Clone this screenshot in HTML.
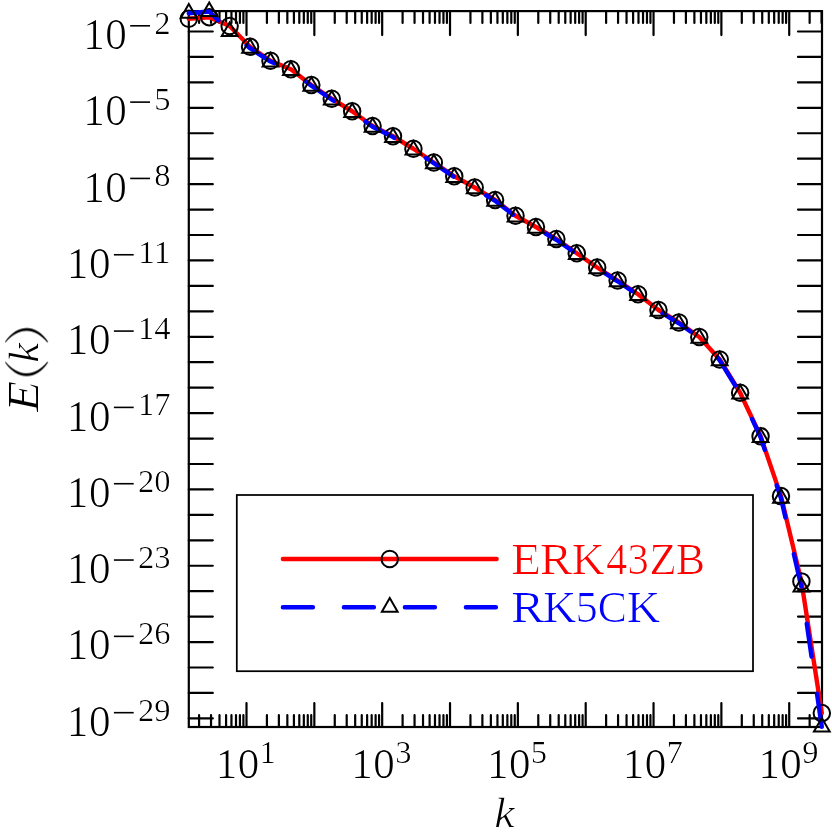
<!DOCTYPE html><html><head><meta charset="utf-8"><style>html,body{margin:0;padding:0;background:#fff}svg{display:block}text{font-family:"Liberation Serif",serif}</style></head><body>
<svg width="832" height="832" viewBox="0 0 832 832">
<rect width="832" height="832" fill="#fff"/>
<path d="M199.08 727.0V715.20M199.08 11.1V22.90M211.03 727.0V715.20M211.03 11.1V22.90M219.50 727.0V715.20M219.50 11.1V22.90M226.08 727.0V715.20M226.08 11.1V22.90M231.45 727.0V715.20M231.45 11.1V22.90M235.99 727.0V715.20M235.99 11.1V22.90M239.93 727.0V715.20M239.93 11.1V22.90M243.40 727.0V715.20M243.40 11.1V22.90M246.50 727.0V703.00M246.50 11.1V35.10M266.92 727.0V715.20M266.92 11.1V22.90M278.87 727.0V715.20M278.87 11.1V22.90M287.34 727.0V715.20M287.34 11.1V22.90M293.92 727.0V715.20M293.92 11.1V22.90M299.29 727.0V715.20M299.29 11.1V22.90M303.83 727.0V715.20M303.83 11.1V22.90M307.77 727.0V715.20M307.77 11.1V22.90M311.24 727.0V715.20M311.24 11.1V22.90M314.34 727.0V703.00M314.34 11.1V35.10M334.76 727.0V715.20M334.76 11.1V22.90M346.71 727.0V715.20M346.71 11.1V22.90M355.18 727.0V715.20M355.18 11.1V22.90M361.76 727.0V715.20M361.76 11.1V22.90M367.13 727.0V715.20M367.13 11.1V22.90M371.67 727.0V715.20M371.67 11.1V22.90M375.61 727.0V715.20M375.61 11.1V22.90M379.08 727.0V715.20M379.08 11.1V22.90M382.18 727.0V703.00M382.18 11.1V35.10M402.60 727.0V715.20M402.60 11.1V22.90M414.55 727.0V715.20M414.55 11.1V22.90M423.02 727.0V715.20M423.02 11.1V22.90M429.60 727.0V715.20M429.60 11.1V22.90M434.97 727.0V715.20M434.97 11.1V22.90M439.51 727.0V715.20M439.51 11.1V22.90M443.45 727.0V715.20M443.45 11.1V22.90M446.92 727.0V715.20M446.92 11.1V22.90M450.02 727.0V703.00M450.02 11.1V35.10M470.44 727.0V715.20M470.44 11.1V22.90M482.39 727.0V715.20M482.39 11.1V22.90M490.86 727.0V715.20M490.86 11.1V22.90M497.44 727.0V715.20M497.44 11.1V22.90M502.81 727.0V715.20M502.81 11.1V22.90M507.35 727.0V715.20M507.35 11.1V22.90M511.29 727.0V715.20M511.29 11.1V22.90M514.76 727.0V715.20M514.76 11.1V22.90M517.86 727.0V703.00M517.86 11.1V35.10M538.28 727.0V715.20M538.28 11.1V22.90M550.23 727.0V715.20M550.23 11.1V22.90M558.70 727.0V715.20M558.70 11.1V22.90M565.28 727.0V715.20M565.28 11.1V22.90M570.65 727.0V715.20M570.65 11.1V22.90M575.19 727.0V715.20M575.19 11.1V22.90M579.13 727.0V715.20M579.13 11.1V22.90M582.60 727.0V715.20M582.60 11.1V22.90M585.70 727.0V703.00M585.70 11.1V35.10M606.12 727.0V715.20M606.12 11.1V22.90M618.07 727.0V715.20M618.07 11.1V22.90M626.54 727.0V715.20M626.54 11.1V22.90M633.12 727.0V715.20M633.12 11.1V22.90M638.49 727.0V715.20M638.49 11.1V22.90M643.03 727.0V715.20M643.03 11.1V22.90M646.97 727.0V715.20M646.97 11.1V22.90M650.44 727.0V715.20M650.44 11.1V22.90M653.54 727.0V703.00M653.54 11.1V35.10M673.96 727.0V715.20M673.96 11.1V22.90M685.91 727.0V715.20M685.91 11.1V22.90M694.38 727.0V715.20M694.38 11.1V22.90M700.96 727.0V715.20M700.96 11.1V22.90M706.33 727.0V715.20M706.33 11.1V22.90M710.87 727.0V715.20M710.87 11.1V22.90M714.81 727.0V715.20M714.81 11.1V22.90M718.28 727.0V715.20M718.28 11.1V22.90M721.38 727.0V703.00M721.38 11.1V35.10M741.80 727.0V715.20M741.80 11.1V22.90M753.75 727.0V715.20M753.75 11.1V22.90M762.22 727.0V715.20M762.22 11.1V22.90M768.80 727.0V715.20M768.80 11.1V22.90M774.17 727.0V715.20M774.17 11.1V22.90M778.71 727.0V715.20M778.71 11.1V22.90M782.65 727.0V715.20M782.65 11.1V22.90M786.12 727.0V715.20M786.12 11.1V22.90M789.22 727.0V703.00M789.22 11.1V35.10M809.64 727.0V715.20M809.64 11.1V22.90M821.59 727.0V715.20M821.59 11.1V22.90M188.8 718.38H212.80M822.0 718.38H798.00M188.8 692.94H212.80M822.0 692.94H798.00M188.8 667.50H212.80M822.0 667.50H798.00M188.8 642.06H212.80M822.0 642.06H798.00M188.8 616.62H212.80M822.0 616.62H798.00M188.8 591.18H212.80M822.0 591.18H798.00M188.8 565.74H212.80M822.0 565.74H798.00M188.8 540.30H212.80M822.0 540.30H798.00M188.8 514.86H212.80M822.0 514.86H798.00M188.8 489.42H212.80M822.0 489.42H798.00M188.8 463.98H212.80M822.0 463.98H798.00M188.8 438.54H212.80M822.0 438.54H798.00M188.8 413.10H212.80M822.0 413.10H798.00M188.8 387.66H212.80M822.0 387.66H798.00M188.8 362.22H212.80M822.0 362.22H798.00M188.8 336.78H212.80M822.0 336.78H798.00M188.8 311.34H212.80M822.0 311.34H798.00M188.8 285.90H212.80M822.0 285.90H798.00M188.8 260.46H212.80M822.0 260.46H798.00M188.8 235.02H212.80M822.0 235.02H798.00M188.8 209.58H212.80M822.0 209.58H798.00M188.8 184.14H212.80M822.0 184.14H798.00M188.8 158.70H212.80M822.0 158.70H798.00M188.8 133.26H212.80M822.0 133.26H798.00M188.8 107.82H212.80M822.0 107.82H798.00M188.8 82.38H212.80M822.0 82.38H798.00M188.8 56.94H212.80M822.0 56.94H798.00M188.8 31.50H212.80M822.0 31.50H798.00" stroke="#000" stroke-width="2.2" stroke-linecap="round" fill="none"/>
<rect x="188.8" y="11.1" width="633.20" height="715.90" fill="none" stroke="#000" stroke-width="2.2"/>
<polyline points="188.80,18.75 209.22,17.20 229.64,26.00 250.06,46.80 270.48,60.75 290.90,69.25 311.32,85.00 331.74,98.75 352.16,111.25 372.58,126.00 393.00,136.25 413.42,148.75 433.84,162.50 454.26,176.25 474.68,187.50 495.10,200.00 515.52,215.75 535.94,227.00 556.36,239.00 576.78,253.25 597.20,267.50 617.62,280.50 638.04,294.25 658.46,310.00 678.88,322.50 699.30,337.00 719.72,359.50 740.14,392.75 760.56,436.25 780.98,496.10 801.40,581.40 821.82,713.10" fill="none" stroke="#f00" stroke-width="4.4" stroke-linecap="round" stroke-linejoin="round"/>
<circle cx="188.80" cy="18.75" r="8.25" fill="none" stroke="#000" stroke-width="2.0"/>
<circle cx="209.22" cy="17.20" r="8.25" fill="none" stroke="#000" stroke-width="2.0"/>
<circle cx="229.64" cy="26.00" r="8.25" fill="none" stroke="#000" stroke-width="2.0"/>
<circle cx="250.06" cy="46.80" r="8.25" fill="none" stroke="#000" stroke-width="2.0"/>
<circle cx="270.48" cy="60.75" r="8.25" fill="none" stroke="#000" stroke-width="2.0"/>
<circle cx="290.90" cy="69.25" r="8.25" fill="none" stroke="#000" stroke-width="2.0"/>
<circle cx="311.32" cy="85.00" r="8.25" fill="none" stroke="#000" stroke-width="2.0"/>
<circle cx="331.74" cy="98.75" r="8.25" fill="none" stroke="#000" stroke-width="2.0"/>
<circle cx="352.16" cy="111.25" r="8.25" fill="none" stroke="#000" stroke-width="2.0"/>
<circle cx="372.58" cy="126.00" r="8.25" fill="none" stroke="#000" stroke-width="2.0"/>
<circle cx="393.00" cy="136.25" r="8.25" fill="none" stroke="#000" stroke-width="2.0"/>
<circle cx="413.42" cy="148.75" r="8.25" fill="none" stroke="#000" stroke-width="2.0"/>
<circle cx="433.84" cy="162.50" r="8.25" fill="none" stroke="#000" stroke-width="2.0"/>
<circle cx="454.26" cy="176.25" r="8.25" fill="none" stroke="#000" stroke-width="2.0"/>
<circle cx="474.68" cy="187.50" r="8.25" fill="none" stroke="#000" stroke-width="2.0"/>
<circle cx="495.10" cy="200.00" r="8.25" fill="none" stroke="#000" stroke-width="2.0"/>
<circle cx="515.52" cy="215.75" r="8.25" fill="none" stroke="#000" stroke-width="2.0"/>
<circle cx="535.94" cy="227.00" r="8.25" fill="none" stroke="#000" stroke-width="2.0"/>
<circle cx="556.36" cy="239.00" r="8.25" fill="none" stroke="#000" stroke-width="2.0"/>
<circle cx="576.78" cy="253.25" r="8.25" fill="none" stroke="#000" stroke-width="2.0"/>
<circle cx="597.20" cy="267.50" r="8.25" fill="none" stroke="#000" stroke-width="2.0"/>
<circle cx="617.62" cy="280.50" r="8.25" fill="none" stroke="#000" stroke-width="2.0"/>
<circle cx="638.04" cy="294.25" r="8.25" fill="none" stroke="#000" stroke-width="2.0"/>
<circle cx="658.46" cy="310.00" r="8.25" fill="none" stroke="#000" stroke-width="2.0"/>
<circle cx="678.88" cy="322.50" r="8.25" fill="none" stroke="#000" stroke-width="2.0"/>
<circle cx="699.30" cy="337.00" r="8.25" fill="none" stroke="#000" stroke-width="2.0"/>
<circle cx="719.72" cy="359.50" r="8.25" fill="none" stroke="#000" stroke-width="2.0"/>
<circle cx="740.14" cy="392.75" r="8.25" fill="none" stroke="#000" stroke-width="2.0"/>
<circle cx="760.56" cy="436.25" r="8.25" fill="none" stroke="#000" stroke-width="2.0"/>
<circle cx="780.98" cy="496.10" r="8.25" fill="none" stroke="#000" stroke-width="2.0"/>
<circle cx="801.40" cy="581.40" r="8.25" fill="none" stroke="#000" stroke-width="2.0"/>
<circle cx="821.82" cy="713.10" r="8.25" fill="none" stroke="#000" stroke-width="2.0"/>
<polyline points="188.80,13.20 209.22,11.50 229.64,31.50 250.06,48.20 270.48,61.55 290.90,70.05 311.32,85.80 331.74,99.55 352.16,112.05 372.58,126.80 393.00,137.05 413.42,149.55 433.84,163.30 454.26,177.05 474.68,188.30 495.10,200.80 515.52,216.55 535.94,227.80 556.36,239.80 576.78,254.05 597.20,268.30 617.62,281.30 638.04,295.05 658.46,310.80 678.88,323.30 699.30,337.80 719.72,360.30 740.14,393.55 760.56,437.05 780.98,498.20 801.40,587.00 821.82,727.00" fill="none" stroke="#00f" stroke-width="4.4" stroke-linecap="round" stroke-linejoin="round" stroke-dasharray="33.3 37.55"/>
<path d="M188.80 4.10L180.92 17.75L196.68 17.75Z" fill="none" stroke="#000" stroke-width="2.0" stroke-linejoin="miter"/>
<path d="M209.22 2.40L201.34 16.05L217.10 16.05Z" fill="none" stroke="#000" stroke-width="2.0" stroke-linejoin="miter"/>
<path d="M229.64 22.40L221.76 36.05L237.52 36.05Z" fill="none" stroke="#000" stroke-width="2.0" stroke-linejoin="miter"/>
<path d="M250.06 39.10L242.18 52.75L257.94 52.75Z" fill="none" stroke="#000" stroke-width="2.0" stroke-linejoin="miter"/>
<path d="M270.48 52.95L262.60 66.60L278.36 66.60Z" fill="none" stroke="#000" stroke-width="2.0" stroke-linejoin="miter"/>
<path d="M290.90 61.45L283.02 75.10L298.78 75.10Z" fill="none" stroke="#000" stroke-width="2.0" stroke-linejoin="miter"/>
<path d="M311.32 77.20L303.44 90.85L319.20 90.85Z" fill="none" stroke="#000" stroke-width="2.0" stroke-linejoin="miter"/>
<path d="M331.74 90.95L323.86 104.60L339.62 104.60Z" fill="none" stroke="#000" stroke-width="2.0" stroke-linejoin="miter"/>
<path d="M352.16 103.45L344.28 117.10L360.04 117.10Z" fill="none" stroke="#000" stroke-width="2.0" stroke-linejoin="miter"/>
<path d="M372.58 118.20L364.70 131.85L380.46 131.85Z" fill="none" stroke="#000" stroke-width="2.0" stroke-linejoin="miter"/>
<path d="M393.00 128.45L385.12 142.10L400.88 142.10Z" fill="none" stroke="#000" stroke-width="2.0" stroke-linejoin="miter"/>
<path d="M413.42 140.95L405.54 154.60L421.30 154.60Z" fill="none" stroke="#000" stroke-width="2.0" stroke-linejoin="miter"/>
<path d="M433.84 154.70L425.96 168.35L441.72 168.35Z" fill="none" stroke="#000" stroke-width="2.0" stroke-linejoin="miter"/>
<path d="M454.26 168.45L446.38 182.10L462.14 182.10Z" fill="none" stroke="#000" stroke-width="2.0" stroke-linejoin="miter"/>
<path d="M474.68 179.70L466.80 193.35L482.56 193.35Z" fill="none" stroke="#000" stroke-width="2.0" stroke-linejoin="miter"/>
<path d="M495.10 192.20L487.22 205.85L502.98 205.85Z" fill="none" stroke="#000" stroke-width="2.0" stroke-linejoin="miter"/>
<path d="M515.52 207.95L507.64 221.60L523.40 221.60Z" fill="none" stroke="#000" stroke-width="2.0" stroke-linejoin="miter"/>
<path d="M535.94 219.20L528.06 232.85L543.82 232.85Z" fill="none" stroke="#000" stroke-width="2.0" stroke-linejoin="miter"/>
<path d="M556.36 231.20L548.48 244.85L564.24 244.85Z" fill="none" stroke="#000" stroke-width="2.0" stroke-linejoin="miter"/>
<path d="M576.78 245.45L568.90 259.10L584.66 259.10Z" fill="none" stroke="#000" stroke-width="2.0" stroke-linejoin="miter"/>
<path d="M597.20 259.70L589.32 273.35L605.08 273.35Z" fill="none" stroke="#000" stroke-width="2.0" stroke-linejoin="miter"/>
<path d="M617.62 272.70L609.74 286.35L625.50 286.35Z" fill="none" stroke="#000" stroke-width="2.0" stroke-linejoin="miter"/>
<path d="M638.04 286.45L630.16 300.10L645.92 300.10Z" fill="none" stroke="#000" stroke-width="2.0" stroke-linejoin="miter"/>
<path d="M658.46 302.20L650.58 315.85L666.34 315.85Z" fill="none" stroke="#000" stroke-width="2.0" stroke-linejoin="miter"/>
<path d="M678.88 314.70L671.00 328.35L686.76 328.35Z" fill="none" stroke="#000" stroke-width="2.0" stroke-linejoin="miter"/>
<path d="M699.30 329.20L691.42 342.85L707.18 342.85Z" fill="none" stroke="#000" stroke-width="2.0" stroke-linejoin="miter"/>
<path d="M719.72 351.70L711.84 365.35L727.60 365.35Z" fill="none" stroke="#000" stroke-width="2.0" stroke-linejoin="miter"/>
<path d="M740.14 384.95L732.26 398.60L748.02 398.60Z" fill="none" stroke="#000" stroke-width="2.0" stroke-linejoin="miter"/>
<path d="M760.56 428.45L752.68 442.10L768.44 442.10Z" fill="none" stroke="#000" stroke-width="2.0" stroke-linejoin="miter"/>
<path d="M780.98 489.10L773.10 502.75L788.86 502.75Z" fill="none" stroke="#000" stroke-width="2.0" stroke-linejoin="miter"/>
<path d="M801.40 577.90L793.52 591.55L809.28 591.55Z" fill="none" stroke="#000" stroke-width="2.0" stroke-linejoin="miter"/>
<path d="M821.82 717.90L813.94 731.55L829.70 731.55Z" fill="none" stroke="#000" stroke-width="2.0" stroke-linejoin="miter"/>
<rect x="236.8" y="495" width="516.2" height="176.2" fill="#fff" stroke="#000" stroke-width="1.75"/>
<path d="M282.9 559H496.6" stroke="#f00" stroke-width="4.4" stroke-linecap="round"/>
<circle cx="389.75" cy="559" r="8.25" fill="none" stroke="#000" stroke-width="2.0"/>
<path d="M282.9 607.2H496.6" stroke="#00f" stroke-width="4.4" stroke-linecap="round" stroke-dasharray="30 31"/>
<path d="M389.75 598.10L381.87 611.75L397.63 611.75Z" fill="none" stroke="#000" stroke-width="2.0" stroke-linejoin="miter"/>
<defs><clipPath id="tc"><text x="510.42" y="573.50" font-size="43.4" fill="#f00" textLength="30.20" lengthAdjust="spacingAndGlyphs">E</text><text x="539.34" y="573.50" font-size="43.4" fill="#f00" textLength="32.56" lengthAdjust="spacingAndGlyphs">R</text><text x="571.23" y="573.50" font-size="43.4" fill="#f00" textLength="32.91" lengthAdjust="spacingAndGlyphs">K</text><text x="605.44" y="573.50" font-size="43.4" fill="#f00" textLength="21.40" lengthAdjust="spacingAndGlyphs">4</text><text x="626.74" y="573.50" font-size="43.4" fill="#f00" textLength="21.70" lengthAdjust="spacingAndGlyphs">3</text><text x="648.66" y="573.50" font-size="43.4" fill="#f00" textLength="27.56" lengthAdjust="spacingAndGlyphs">Z</text><text x="675.23" y="573.50" font-size="43.4" fill="#f00" textLength="29.40" lengthAdjust="spacingAndGlyphs">B</text><text x="510.40" y="621.70" font-size="43.4" fill="#00f" textLength="33.40" lengthAdjust="spacingAndGlyphs">R</text><text x="542.62" y="621.70" font-size="43.4" fill="#00f" textLength="33.33" lengthAdjust="spacingAndGlyphs">K</text><text x="575.13" y="621.70" font-size="43.4" fill="#00f" textLength="22.36" lengthAdjust="spacingAndGlyphs">5</text><text x="597.03" y="621.70" font-size="43.4" fill="#00f" textLength="29.59" lengthAdjust="spacingAndGlyphs">C</text><text x="626.16" y="621.70" font-size="43.4" fill="#00f" textLength="33.49" lengthAdjust="spacingAndGlyphs">K</text><text x="66.14" y="735.79" font-size="43.63" fill="#000" textLength="44.06" lengthAdjust="spacingAndGlyphs">10</text><text x="137.75" y="720.67" font-size="31.13" textLength="32.60" lengthAdjust="spacingAndGlyphs">29</text><text x="66.14" y="659.47" font-size="43.63" fill="#000" textLength="44.06" lengthAdjust="spacingAndGlyphs">10</text><text x="137.75" y="644.35" font-size="31.13" textLength="32.60" lengthAdjust="spacingAndGlyphs">26</text><text x="66.14" y="583.15" font-size="43.63" fill="#000" textLength="44.06" lengthAdjust="spacingAndGlyphs">10</text><text x="137.75" y="568.03" font-size="31.13" textLength="32.60" lengthAdjust="spacingAndGlyphs">23</text><text x="66.14" y="506.83" font-size="43.63" fill="#000" textLength="44.06" lengthAdjust="spacingAndGlyphs">10</text><text x="137.75" y="491.71" font-size="31.13" textLength="32.60" lengthAdjust="spacingAndGlyphs">20</text><text x="66.14" y="430.51" font-size="43.63" fill="#000" textLength="44.06" lengthAdjust="spacingAndGlyphs">10</text><text x="137.75" y="415.39" font-size="31.13" textLength="32.60" lengthAdjust="spacingAndGlyphs">17</text><text x="66.14" y="354.19" font-size="43.63" fill="#000" textLength="44.06" lengthAdjust="spacingAndGlyphs">10</text><text x="137.75" y="339.07" font-size="31.13" textLength="32.60" lengthAdjust="spacingAndGlyphs">14</text><text x="66.14" y="277.87" font-size="43.63" fill="#000" textLength="44.06" lengthAdjust="spacingAndGlyphs">10</text><text x="137.75" y="262.75" font-size="31.13" textLength="32.60" lengthAdjust="spacingAndGlyphs">11</text><text x="82.44" y="201.55" font-size="43.63" fill="#000" textLength="44.06" lengthAdjust="spacingAndGlyphs">10</text><text x="154.05" y="186.43" font-size="31.13" textLength="16.30" lengthAdjust="spacingAndGlyphs">8</text><text x="82.44" y="125.23" font-size="43.63" fill="#000" textLength="44.06" lengthAdjust="spacingAndGlyphs">10</text><text x="154.05" y="110.11" font-size="31.13" textLength="16.30" lengthAdjust="spacingAndGlyphs">5</text><text x="82.44" y="48.91" font-size="43.63" fill="#000" textLength="44.06" lengthAdjust="spacingAndGlyphs">10</text><text x="154.05" y="33.79" font-size="31.13" textLength="16.30" lengthAdjust="spacingAndGlyphs">2</text><text x="214.96" y="778.02" font-size="43.19" fill="#000" textLength="43.89" lengthAdjust="spacingAndGlyphs">10</text><text x="259.25" y="762.89" font-size="31.28" textLength="16.30" lengthAdjust="spacingAndGlyphs">1</text><text x="350.64" y="778.02" font-size="43.19" fill="#000" textLength="43.89" lengthAdjust="spacingAndGlyphs">10</text><text x="394.93" y="762.89" font-size="31.28" textLength="16.30" lengthAdjust="spacingAndGlyphs">3</text><text x="486.32" y="778.02" font-size="43.19" fill="#000" textLength="43.89" lengthAdjust="spacingAndGlyphs">10</text><text x="530.61" y="762.89" font-size="31.28" textLength="16.30" lengthAdjust="spacingAndGlyphs">5</text><text x="622.00" y="778.02" font-size="43.19" fill="#000" textLength="43.89" lengthAdjust="spacingAndGlyphs">10</text><text x="666.29" y="762.89" font-size="31.28" textLength="16.30" lengthAdjust="spacingAndGlyphs">7</text><text x="757.68" y="778.02" font-size="43.19" fill="#000" textLength="43.89" lengthAdjust="spacingAndGlyphs">10</text><text x="801.97" y="762.89" font-size="31.28" textLength="16.30" lengthAdjust="spacingAndGlyphs">9</text><text x="493.83" y="826.60" font-size="42.30" font-style="italic" fill="#000" textLength="20.25" lengthAdjust="spacingAndGlyphs">k</text><text x="-0.06" y="-0.30" font-size="44.89" font-style="italic" fill="#000" textLength="31.17" lengthAdjust="spacingAndGlyphs" transform="translate(38.1 412.4) rotate(-90)">E</text><text x="49.26" y="-0.30" font-size="42.30" font-style="italic" fill="#000" textLength="19.83" lengthAdjust="spacingAndGlyphs" transform="translate(38.1 412.4) rotate(-90)">k</text></clipPath></defs>
<g clip-path="url(#tc)"><text x="511.42" y="573.50" font-size="43.4" fill="#f00" textLength="30.20" lengthAdjust="spacingAndGlyphs">E</text><text x="540.34" y="573.50" font-size="43.4" fill="#f00" textLength="32.56" lengthAdjust="spacingAndGlyphs">R</text><text x="572.23" y="573.50" font-size="43.4" fill="#f00" textLength="32.91" lengthAdjust="spacingAndGlyphs">K</text><text x="606.44" y="573.50" font-size="43.4" fill="#f00" textLength="21.40" lengthAdjust="spacingAndGlyphs">4</text><text x="627.74" y="573.50" font-size="43.4" fill="#f00" textLength="21.70" lengthAdjust="spacingAndGlyphs">3</text><text x="649.66" y="573.50" font-size="43.4" fill="#f00" textLength="27.56" lengthAdjust="spacingAndGlyphs">Z</text><text x="676.23" y="573.50" font-size="43.4" fill="#f00" textLength="29.40" lengthAdjust="spacingAndGlyphs">B</text><text x="511.40" y="621.70" font-size="43.4" fill="#00f" textLength="33.40" lengthAdjust="spacingAndGlyphs">R</text><text x="543.62" y="621.70" font-size="43.4" fill="#00f" textLength="33.33" lengthAdjust="spacingAndGlyphs">K</text><text x="576.13" y="621.70" font-size="43.4" fill="#00f" textLength="22.36" lengthAdjust="spacingAndGlyphs">5</text><text x="598.03" y="621.70" font-size="43.4" fill="#00f" textLength="29.59" lengthAdjust="spacingAndGlyphs">C</text><text x="627.16" y="621.70" font-size="43.4" fill="#00f" textLength="33.49" lengthAdjust="spacingAndGlyphs">K</text><text x="67.14" y="735.79" font-size="43.63" fill="#000" textLength="44.06" lengthAdjust="spacingAndGlyphs">10</text><text x="138.25" y="720.67" font-size="31.13" textLength="32.60" lengthAdjust="spacingAndGlyphs">29</text><text x="67.14" y="659.47" font-size="43.63" fill="#000" textLength="44.06" lengthAdjust="spacingAndGlyphs">10</text><text x="138.25" y="644.35" font-size="31.13" textLength="32.60" lengthAdjust="spacingAndGlyphs">26</text><text x="67.14" y="583.15" font-size="43.63" fill="#000" textLength="44.06" lengthAdjust="spacingAndGlyphs">10</text><text x="138.25" y="568.03" font-size="31.13" textLength="32.60" lengthAdjust="spacingAndGlyphs">23</text><text x="67.14" y="506.83" font-size="43.63" fill="#000" textLength="44.06" lengthAdjust="spacingAndGlyphs">10</text><text x="138.25" y="491.71" font-size="31.13" textLength="32.60" lengthAdjust="spacingAndGlyphs">20</text><text x="67.14" y="430.51" font-size="43.63" fill="#000" textLength="44.06" lengthAdjust="spacingAndGlyphs">10</text><text x="138.25" y="415.39" font-size="31.13" textLength="32.60" lengthAdjust="spacingAndGlyphs">17</text><text x="67.14" y="354.19" font-size="43.63" fill="#000" textLength="44.06" lengthAdjust="spacingAndGlyphs">10</text><text x="138.25" y="339.07" font-size="31.13" textLength="32.60" lengthAdjust="spacingAndGlyphs">14</text><text x="67.14" y="277.87" font-size="43.63" fill="#000" textLength="44.06" lengthAdjust="spacingAndGlyphs">10</text><text x="138.25" y="262.75" font-size="31.13" textLength="32.60" lengthAdjust="spacingAndGlyphs">11</text><text x="83.44" y="201.55" font-size="43.63" fill="#000" textLength="44.06" lengthAdjust="spacingAndGlyphs">10</text><text x="154.55" y="186.43" font-size="31.13" textLength="16.30" lengthAdjust="spacingAndGlyphs">8</text><text x="83.44" y="125.23" font-size="43.63" fill="#000" textLength="44.06" lengthAdjust="spacingAndGlyphs">10</text><text x="154.55" y="110.11" font-size="31.13" textLength="16.30" lengthAdjust="spacingAndGlyphs">5</text><text x="83.44" y="48.91" font-size="43.63" fill="#000" textLength="44.06" lengthAdjust="spacingAndGlyphs">10</text><text x="154.55" y="33.79" font-size="31.13" textLength="16.30" lengthAdjust="spacingAndGlyphs">2</text><text x="215.96" y="778.02" font-size="43.19" fill="#000" textLength="43.89" lengthAdjust="spacingAndGlyphs">10</text><text x="259.75" y="762.89" font-size="31.28" textLength="16.30" lengthAdjust="spacingAndGlyphs">1</text><text x="351.64" y="778.02" font-size="43.19" fill="#000" textLength="43.89" lengthAdjust="spacingAndGlyphs">10</text><text x="395.43" y="762.89" font-size="31.28" textLength="16.30" lengthAdjust="spacingAndGlyphs">3</text><text x="487.32" y="778.02" font-size="43.19" fill="#000" textLength="43.89" lengthAdjust="spacingAndGlyphs">10</text><text x="531.11" y="762.89" font-size="31.28" textLength="16.30" lengthAdjust="spacingAndGlyphs">5</text><text x="623.00" y="778.02" font-size="43.19" fill="#000" textLength="43.89" lengthAdjust="spacingAndGlyphs">10</text><text x="666.79" y="762.89" font-size="31.28" textLength="16.30" lengthAdjust="spacingAndGlyphs">7</text><text x="758.68" y="778.02" font-size="43.19" fill="#000" textLength="43.89" lengthAdjust="spacingAndGlyphs">10</text><text x="802.47" y="762.89" font-size="31.28" textLength="16.30" lengthAdjust="spacingAndGlyphs">9</text><text x="494.83" y="826.60" font-size="42.30" font-style="italic" fill="#000" textLength="20.25" lengthAdjust="spacingAndGlyphs">k</text><text x="0.94" y="-0.30" font-size="44.89" font-style="italic" fill="#000" textLength="31.17" lengthAdjust="spacingAndGlyphs" transform="translate(38.1 412.4) rotate(-90)">E</text><text x="50.26" y="-0.30" font-size="42.30" font-style="italic" fill="#000" textLength="19.83" lengthAdjust="spacingAndGlyphs" transform="translate(38.1 412.4) rotate(-90)">k</text></g>
<path d="M113.90 712.68H133.70" stroke="#000" stroke-width="1.6"/>
<path d="M113.90 636.36H133.70" stroke="#000" stroke-width="1.6"/>
<path d="M113.90 560.04H133.70" stroke="#000" stroke-width="1.6"/>
<path d="M113.90 483.72H133.70" stroke="#000" stroke-width="1.6"/>
<path d="M113.90 407.40H133.70" stroke="#000" stroke-width="1.6"/>
<path d="M113.90 331.08H133.70" stroke="#000" stroke-width="1.6"/>
<path d="M113.90 254.76H133.70" stroke="#000" stroke-width="1.6"/>
<path d="M130.20 178.44H150.00" stroke="#000" stroke-width="1.6"/>
<path d="M130.20 102.12H150.00" stroke="#000" stroke-width="1.6"/>
<path d="M130.20 25.80H150.00" stroke="#000" stroke-width="1.6"/>
<g transform="translate(38.1 412.4) rotate(-90)">
<path d="M50 -33.1C41 -27 36.3 -19.5 36.3 -11.5C36.3 -3.5 41 4 50 10L50.7 9.3C43.4 3.2 39.1 -4 39.1 -11.5C39.1 -19 43.4 -26.2 50.7 -32.4Z" fill="#000"/>
<path d="M50 -33.1C41 -27 36.3 -19.5 36.3 -11.5C36.3 -3.5 41 4 50 10L50.7 9.3C43.4 3.2 39.1 -4 39.1 -11.5C39.1 -19 43.4 -26.2 50.7 -32.4Z" fill="#000" transform="translate(120.65 0) scale(-1 1)"/>
</g>
</svg></body></html>
